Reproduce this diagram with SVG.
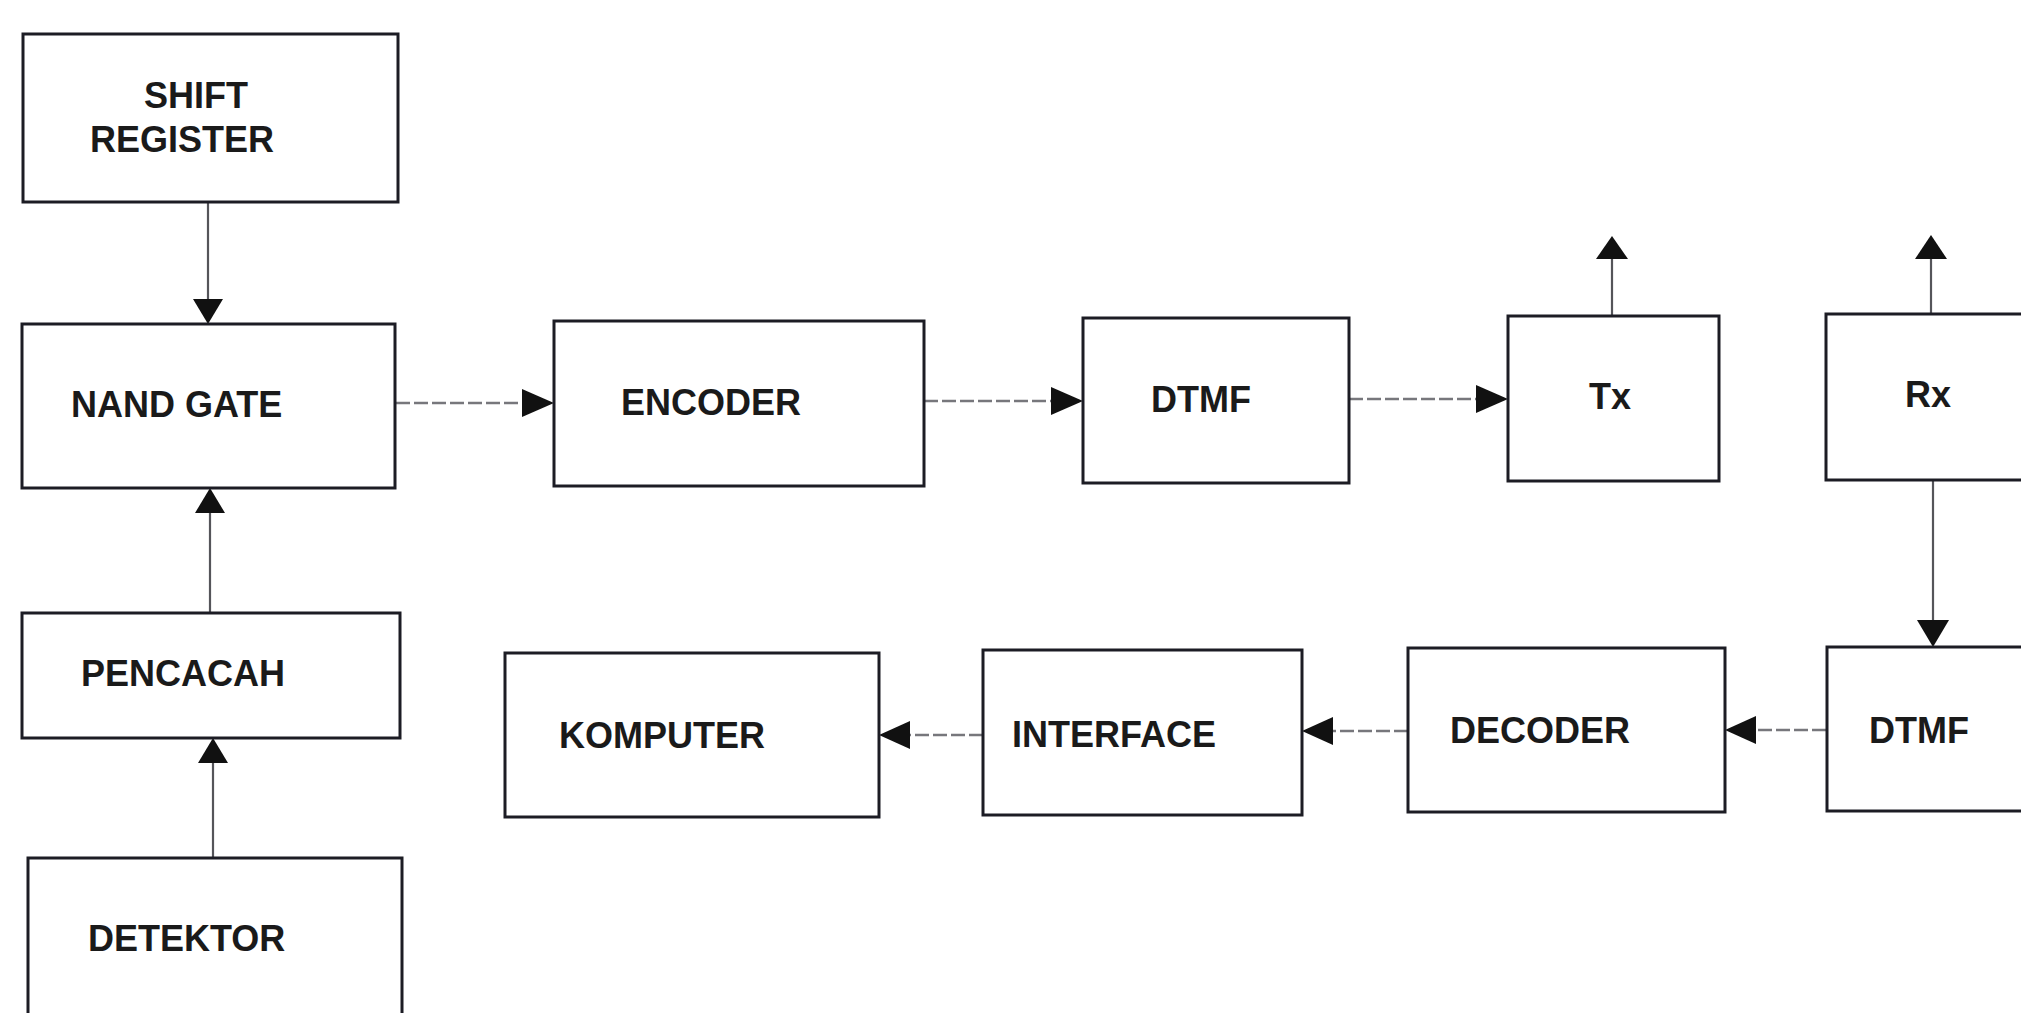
<svg xmlns="http://www.w3.org/2000/svg" width="2021" height="1013" viewBox="0 0 2021 1013">
  <style>
    .box { fill: #ffffff; stroke: #1c1c24; stroke-width: 3; }
    .lbl { font-family: "Liberation Sans", Arial, sans-serif; font-weight: bold; font-size: 36px; fill: #1a1a1a; }
    .conn { fill: none; stroke: #77777c; stroke-width: 2.4; stroke-dasharray: 14 4; }
    .vconn { fill: none; stroke: #55555a; stroke-width: 2.2; }
    .head { fill: #111111; }
  </style>
  <rect width="2021" height="1013" fill="#ffffff"/>

  <!-- connectors -->
  <g id="connectors">
    <!-- shift register -> nand gate -->
    <line class="vconn" x1="208" y1="202" x2="208" y2="300"/>
    <path class="head" d="M193,299 L223,299 L208,324 Z"/>
    <!-- pencacah -> nand gate -->
    <line class="vconn" x1="210" y1="613" x2="210" y2="512"/>
    <path class="head" d="M195,513 L225,513 L210,488 Z"/>
    <!-- detektor -> pencacah -->
    <line class="vconn" x1="213" y1="858" x2="213" y2="762"/>
    <path class="head" d="M198,763 L228,763 L213,738 Z"/>
    <!-- nand gate -> encoder -->
    <line class="conn" x1="396" y1="403" x2="524" y2="403"/>
    <path class="head" d="M522,389 L522,417 L554,403 Z"/>
    <!-- encoder -> dtmf -->
    <line class="conn" x1="924" y1="401" x2="1053" y2="401"/>
    <path class="head" d="M1051,387 L1051,415 L1083,401 Z"/>
    <!-- dtmf -> tx -->
    <line class="conn" x1="1349" y1="399" x2="1478" y2="399"/>
    <path class="head" d="M1476,385 L1476,413 L1508,399 Z"/>
    <!-- tx antenna -->
    <line class="vconn" x1="1612" y1="316" x2="1612" y2="258"/>
    <path class="head" d="M1596,259 L1628,259 L1612,236 Z"/>
    <!-- rx antenna -->
    <line class="vconn" x1="1931" y1="314" x2="1931" y2="258"/>
    <path class="head" d="M1915,259 L1947,259 L1931,235 Z"/>
    <!-- rx -> dtmf -->
    <line class="vconn" x1="1933" y1="480" x2="1933" y2="622"/>
    <path class="head" d="M1917,620 L1949,620 L1933,647 Z"/>
    <!-- dtmf -> decoder -->
    <line class="conn" x1="1826" y1="730" x2="1754" y2="730"/>
    <path class="head" d="M1756,716 L1756,744 L1725,730 Z"/>
    <!-- decoder -> interface -->
    <line class="conn" x1="1408" y1="731" x2="1331" y2="731"/>
    <path class="head" d="M1333,717 L1333,745 L1302,731 Z"/>
    <!-- interface -> komputer -->
    <line class="conn" x1="983" y1="735" x2="908" y2="735"/>
    <path class="head" d="M910,721 L910,749 L879,735 Z"/>
  </g>

  <g id="shift-register">
    <rect class="box" x="23" y="34" width="375" height="168"/>
    <text class="lbl" x="144" y="108">SHIFT</text>
    <text class="lbl" x="90" y="152">REGISTER</text>
  </g>
  <g id="nand-gate">
    <rect class="box" x="22" y="324" width="373" height="164"/>
    <text class="lbl" x="71" y="417">NAND GATE</text>
  </g>
  <g id="pencacah">
    <rect class="box" x="22" y="613" width="378" height="125"/>
    <text class="lbl" x="81" y="686">PENCACAH</text>
  </g>
  <g id="detektor">
    <rect class="box" x="28" y="858" width="374" height="170"/>
    <text class="lbl" x="88" y="951">DETEKTOR</text>
  </g>
  <g id="encoder">
    <rect class="box" x="554" y="321" width="370" height="165"/>
    <text class="lbl" x="621" y="415">ENCODER</text>
  </g>
  <g id="dtmf-tx">
    <rect class="box" x="1083" y="318" width="266" height="165"/>
    <text class="lbl" x="1151" y="412">DTMF</text>
  </g>
  <g id="tx">
    <rect class="box" x="1508" y="316" width="211" height="165"/>
    <text class="lbl" x="1589" y="409">Tx</text>
  </g>
  <g id="rx">
    <rect class="box" x="1826" y="314" width="210" height="166"/>
    <text class="lbl" x="1905" y="407">Rx</text>
  </g>
  <g id="dtmf-rx">
    <rect class="box" x="1827" y="647" width="210" height="164"/>
    <text class="lbl" x="1869" y="743">DTMF</text>
  </g>
  <g id="decoder">
    <rect class="box" x="1408" y="648" width="317" height="164"/>
    <text class="lbl" x="1450" y="743">DECODER</text>
  </g>
  <g id="interface">
    <rect class="box" x="983" y="650" width="319" height="165"/>
    <text class="lbl" x="1012" y="747">INTERFACE</text>
  </g>
  <g id="komputer">
    <rect class="box" x="505" y="653" width="374" height="164"/>
    <text class="lbl" x="559" y="748">KOMPUTER</text>
  </g>
</svg>
